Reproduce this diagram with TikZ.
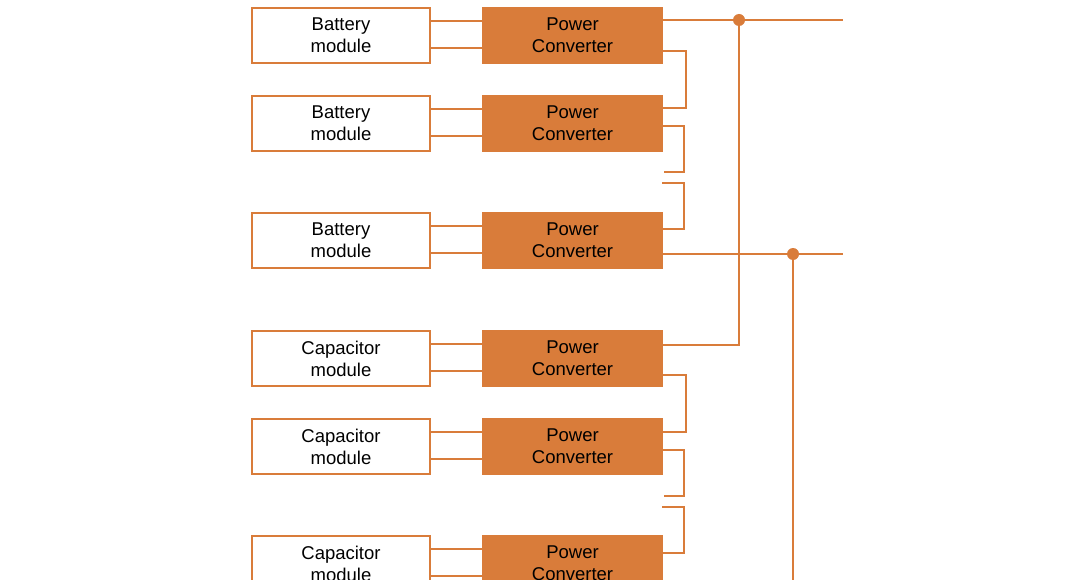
\documentclass[tikz,border=0pt]{standalone}
\usepackage{fontspec}
\setmainfont{Liberation Sans}
\definecolor{org}{RGB}{217,124,58}
\begin{document}
\begin{tikzpicture}[x=1pt,y=-1pt,
  modbox/.style={draw=org,line width=2.4pt,fill=white,minimum width=178pt,minimum height=55pt,inner sep=0pt,align=center,font=\fontsize{18.5}{22}\selectfont},
  convbox/.style={fill=org,minimum width=181pt,minimum height=57pt,inner sep=0pt,align=center,font=\fontsize{18.5}{22}\selectfont},
  wire/.style={draw=org,line width=2.4pt},
  jn/.style={circle,fill=org,inner sep=0pt,minimum size=12pt}]
\useasboundingbox (0,0) rectangle (1068,580);
\clip (0,0) rectangle (1068,580);
\fill[white] (0,0) rectangle (1068,580);
% rows
\foreach \i/\t/\lab in {1/7/Battery,2/95/Battery,3/212/Battery,4/330/Capacitor,5/418/Capacitor,6/535/Capacitor}{
  \node[modbox] (m\i) at (341,\t+28.5) {\lab\\module};
  \node[convbox] (c\i) at (572.5,\t+28.5) {Power\\Converter};
  \draw[wire] (m\i.east |- {(0,\t+14)}) -- (c\i.west |- {(0,\t+14)});
  \draw[wire] (m\i.east |- {(0,\t+41)}) -- (c\i.west |- {(0,\t+41)});
}
% bus ends and junctions
\coordinate (e1) at (843,20);
\coordinate (e2) at (843,254);
\coordinate (b1) at (793,582);
\node[jn] (j1) at (739,20) {};
\node[jn] (j2) at (793,254) {};
% top bus
\draw[wire] (c1.east |- j1) -- (j1) -- (e1);
\draw[wire] (j1) -- (739,345) -- (c4.east |- {(0,345)});
% lower bus
\draw[wire] (c3.east |- j2) -- (j2) -- (e2);
\draw[wire] (j2) -- (b1);
% series jogs batteries
\draw[wire] (c1.east |- {(0,51)}) -- (686,51) -- (686,108) -- (c2.east |- {(0,108)});
\coordinate (s1) at (664,172);
\coordinate (s2) at (662,183);
\draw[wire] (c2.east |- {(0,126)}) -- (684,126) -- (684,172) -- (s1);
\draw[wire] (s2) -- (684,183) -- (684,229) -- (c3.east |- {(0,229)});
% series jogs capacitors
\draw[wire] (c4.east |- {(0,375)}) -- (686,375) -- (686,432) -- (c5.east |- {(0,432)});
\coordinate (s3) at (664,496);
\coordinate (s4) at (662,507);
\draw[wire] (c5.east |- {(0,450)}) -- (684,450) -- (684,496) -- (s3);
\draw[wire] (s4) -- (684,507) -- (684,553) -- (c6.east |- {(0,553)});
\end{tikzpicture}
\end{document}
